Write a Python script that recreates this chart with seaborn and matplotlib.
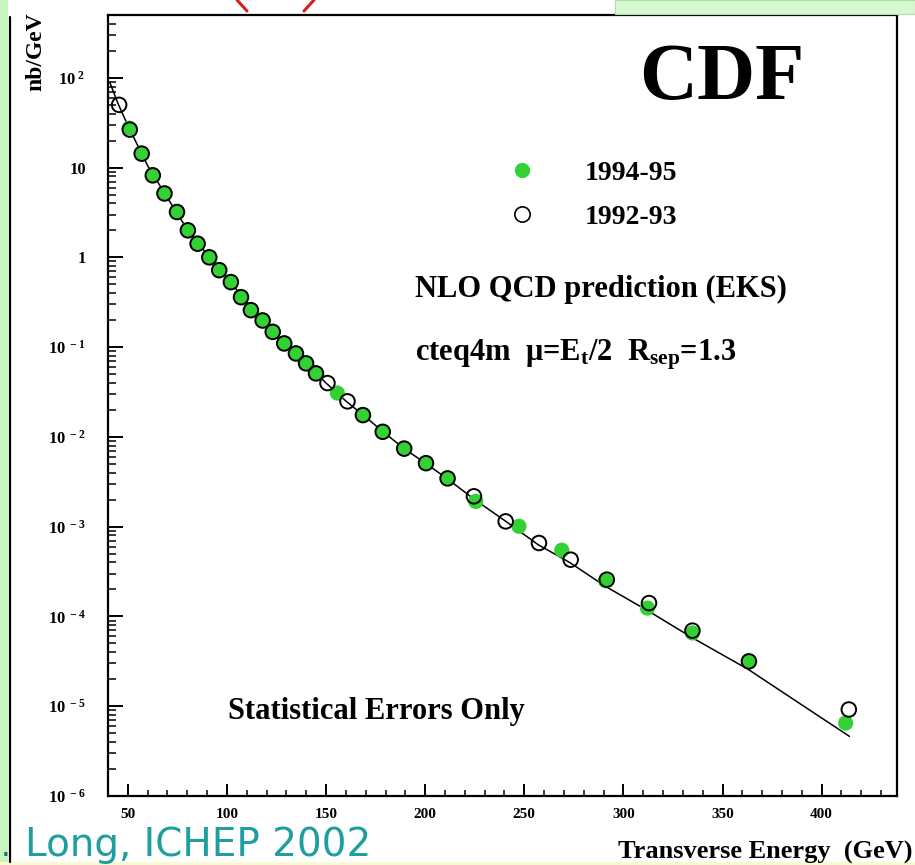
import numpy as np
import matplotlib
matplotlib.use('Agg')
import matplotlib.pyplot as plt
import seaborn as sns
from matplotlib.lines import Line2D
from matplotlib.patches import Rectangle
from matplotlib.ticker import MultipleLocator, LogLocator, NullFormatter

# ---------------- data ----------------
et_9495 = [50.7, 56.9, 62.5, 68.3, 74.7, 80.1, 85.1, 91.0, 96.0, 101.9, 107.0, 112.0,
           117.9, 123.0, 128.8, 134.7, 139.8, 144.8, 155.7, 168.4, 178.4, 189.3, 200.3,
           211.2, 225.5, 247.3, 268.9, 291.0, 312.1, 334.8, 363.3, 412.1]
xs_9495 = [27.5, 14.5, 8.3, 5.2, 3.24, 2.03, 1.44, 1.02, 0.73, 0.54, 0.367, 0.261,
           0.202, 0.150, 0.111, 0.086, 0.0665, 0.0515, 0.0308, 0.0177, 0.0115, 0.0075, 0.00512,
           0.00348, 0.00191, 1.01e-3, 5.47e-4, 2.5e-4, 1.24e-4, 6.55e-5, 3.16e-5, 6.5e-6]

et_9293 = [45.6, 51.0, 57.0, 62.6, 68.5, 74.8, 80.3, 85.2, 91.1, 96.1, 102.0, 107.1,
           112.1, 118.0, 123.1, 128.9, 134.8, 139.9, 144.9, 150.7, 160.8, 168.6, 178.6,
           189.4, 200.4, 211.3, 224.6, 240.6, 257.4, 273.4, 291.6, 312.9, 334.8, 363.3, 413.7]
xs_9293 = [50, 26.5, 14.3, 8.2, 5.15, 3.2, 2.0, 1.42, 1.0, 0.72, 0.53, 0.36,
           0.258, 0.198, 0.148, 0.110, 0.085, 0.066, 0.051, 0.0398, 0.0249, 0.0175, 0.0114,
           0.0074, 0.0051, 0.00345, 0.00218, 1.146e-3, 6.58e-4, 4.29e-4, 2.57e-4, 1.41e-4,
           6.95e-5, 3.16e-5, 9.2e-6]

et_nlo = [41, 45, 50, 60, 70, 80, 90, 100, 110, 120, 130, 140, 150, 160, 170, 180, 190,
          200, 212, 225, 240, 257, 273, 291, 313, 335, 363, 389, 414]
xs_nlo = [88, 52, 29.5, 10.5, 4.6, 2.04, 1.08, 0.595, 0.316, 0.178, 0.1055, 0.066, 0.0398,
          0.0251, 0.0166, 0.01084, 0.00724, 0.00513, 0.00331, 0.0020, 0.001175, 6.3e-4,
          3.98e-4, 2.16e-4, 1.135e-4, 5.75e-5, 2.57e-5, 1.07e-5, 4.62e-6]

series_labels = ['1994-95', '1992-93']
xtick_vals = [50, 100, 150, 200, 250, 300, 350, 400]
xtick_labels = ['50', '100', '150', '200', '250', '300', '350', '400']
ytick_vals = [1e-6, 1e-5, 1e-4, 1e-3, 1e-2, 1e-1, 1, 10, 100]
ytick_labels = [r'$10^{\ -6}$', r'$10^{\ -5}$', r'$10^{\ -4}$', r'$10^{\ -3}$',
                r'$10^{\ -2}$', r'$10^{\ -1}$', '1', '10', r'$10^{\ 2}$']

# ---------------- style ----------------
sns.set_style('ticks')
plt.rcParams['font.family'] = ['Liberation Serif', 'DejaVu Serif']
plt.rcParams['font.weight'] = 'bold'
plt.rcParams['text.color'] = 'black'
plt.rcParams['axes.labelcolor'] = 'black'
plt.rcParams['xtick.color'] = 'black'
plt.rcParams['ytick.color'] = 'black'
plt.rcParams['mathtext.fontset'] = 'custom'
plt.rcParams['mathtext.rm'] = 'Liberation Serif:bold'
plt.rcParams['mathtext.bf'] = 'Liberation Serif:bold'
plt.rcParams['mathtext.it'] = 'Liberation Serif:bold'
plt.rcParams['mathtext.default'] = 'bf'

W, H = 915, 865
fig = plt.figure(figsize=(W / 100, H / 100), dpi=100)
fig.patch.set_facecolor('white')

# slide decorations
fig.patches.append(Rectangle((0, 0), 8 / W, 1, transform=fig.transFigure,
                             facecolor='#c6f5be', edgecolor='none', zorder=0))
fig.lines.append(Line2D([9.5 / W, 9.5 / W], [1 - 862 / H, 1 - 17 / H],
                        transform=fig.transFigure, color='black', lw=1.6))
fig.patches.append(Rectangle((615 / W, 1 - 14 / H), 300 / W, 14 / H, transform=fig.transFigure,
                             facecolor='#d6f8cf', edgecolor='#b8d8b0', lw=0.8, zorder=0))
fig.patches.append(Rectangle((0, 0), 1, 3 / H, transform=fig.transFigure,
                             facecolor='#fbf9d2', edgecolor='none', zorder=0))
fig.lines.append(Line2D([237 / W, 247 / W], [1.0, 1 - 11 / H], transform=fig.transFigure,
                        color='#d42020', lw=2.2))
fig.lines.append(Line2D([314 / W, 304 / W], [1.0, 1 - 11 / H], transform=fig.transFigure,
                        color='#d42020', lw=2.2))

ax = fig.add_axes([108 / W, 1 - 796 / H, (897 - 108) / W, (796 - 15) / H])
ax.set_facecolor('white')

sns.lineplot(x=et_nlo, y=xs_nlo, ax=ax, color='black', lw=1.1, zorder=2)
sns.scatterplot(x=et_9495, y=xs_9495, ax=ax, s=120, color='#33d133', edgecolor='none',
                zorder=3)
sns.scatterplot(x=et_9293, y=xs_9293, ax=ax, s=110, marker='o', facecolors='none',
                edgecolors='black', linewidths=1.4, zorder=4)

ax.set_yscale('log')
ax.set_xlim(40, 438)
ax.set_ylim(1e-6, 10 ** 2.7)
ax.set_xticks(xtick_vals)
ax.set_xticklabels(xtick_labels)
ax.xaxis.set_minor_locator(MultipleLocator(10))
ax.set_yticks(ytick_vals)
ax.set_yticklabels(ytick_labels)
ax.yaxis.set_minor_locator(LogLocator(base=10, subs=np.arange(2, 10), numticks=20))
ax.yaxis.set_minor_formatter(NullFormatter())

ax.tick_params(which='both', direction='in', top=False, right=False, color='black')
ax.tick_params(axis='y', which='major', length=11, width=1.4, pad=16, labelsize=12,
               labelcolor='black')
ax.tick_params(axis='y', which='minor', length=5.5, width=1.1)
ax.tick_params(axis='x', which='major', length=9, width=1.4, pad=9, labelsize=11,
               labelcolor='black')
ax.tick_params(axis='x', which='minor', length=4.5, width=1.1)
for s in ax.spines.values():
    s.set_linewidth(1.6)
    s.set_color('black')
ax.set_xlabel('')
ax.set_ylabel('')

# legend
handles = [Line2D([], [], marker='o', ls='', markersize=11, markerfacecolor='#33d133',
                  markeredgecolor='none'),
           Line2D([], [], marker='o', ls='', markersize=11, markerfacecolor='none',
                  markeredgecolor='black', markeredgewidth=1.2)]
leg = ax.legend(handles, series_labels, loc='upper left', bbox_to_anchor=(0.507, 0.814),
                frameon=False, prop=dict(family='Liberation Serif', weight='bold', size=20),
                handlelength=1.0, handletextpad=1.75, labelspacing=0.68, borderpad=0,
                borderaxespad=0)
for t in leg.get_texts():
    t.set_color('black')

# texts
fig.text(722 / W, 1 - 79 / H, 'CDF', ha='center', va='center', fontsize=58, fontweight='bold',
         color='black')
fig.text(415 / W, 1 - 297 / H, 'NLO QCD prediction (EKS)', ha='left', va='baseline',
         fontsize=22, fontweight='bold', color='black')
fig.text(415 / W, 1 - 360 / H, 'cteq4m  μ=E$_t$/2  R$_{sep}$=1.3', ha='left', va='baseline',
         fontsize=22, fontweight='bold', color='black')
fig.text(228 / W, 1 - 719 / H, 'Statistical Errors Only', ha='left', va='baseline',
         fontsize=22, fontweight='bold', color='black')
fig.text(912 / W, 1 - 859 / H, 'Transverse Energy  (GeV)', ha='right', va='baseline',
         fontsize=19, fontweight='bold', color='black')
fig.text(36 / W, 1 - 52 / H, 'nb/GeV', ha='center', va='center', rotation=90,
         fontsize=17, fontweight='bold', color='black')
fig.text(25 / W, 1 - 856 / H, 'Long, ICHEP 2002', ha='left', va='baseline',
         fontsize=28, color='#1f9e9e', family='DejaVu Sans', fontweight='normal')
fig.text(1 / W, 1 - 856 / H, '.', ha='left', va='baseline',
         fontsize=22, color='#1f6e6e', family='DejaVu Sans', fontweight='normal')

fig.savefig('out.png', dpi=100)
